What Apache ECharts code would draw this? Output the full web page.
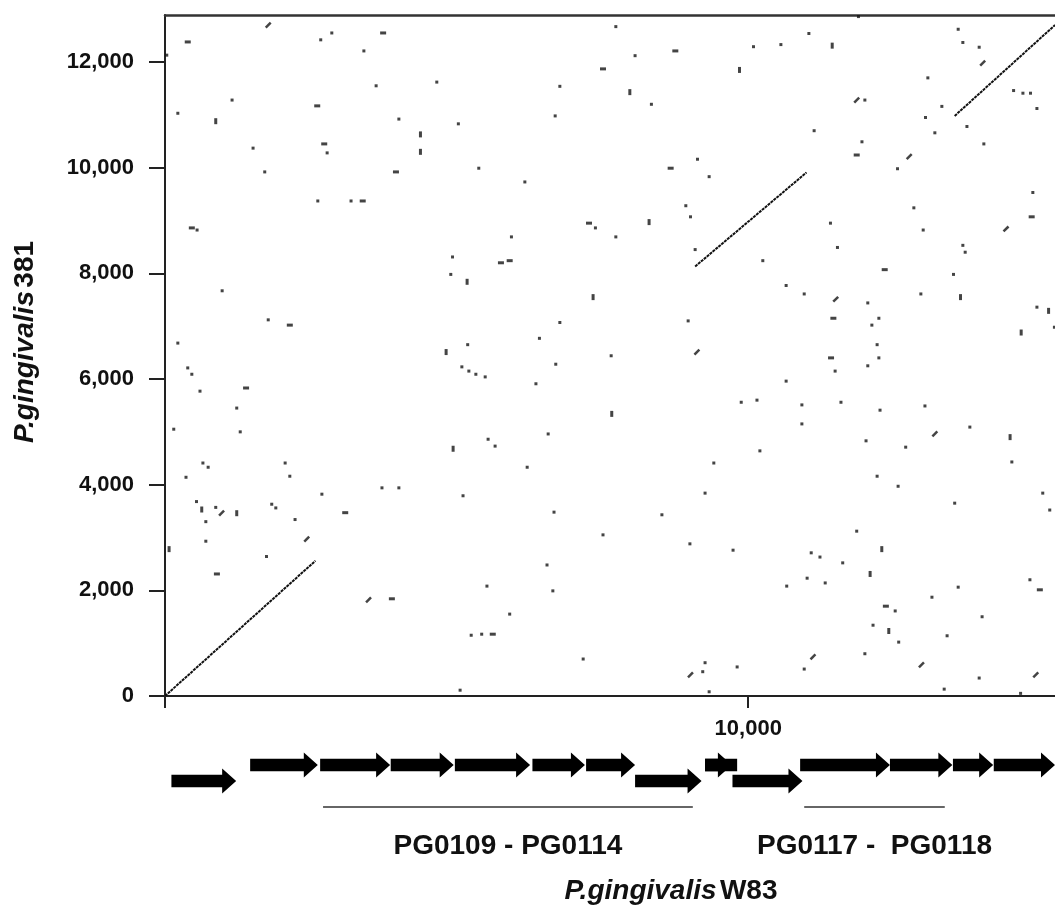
<!DOCTYPE html>
<html>
<head>
<meta charset="utf-8">
<script src="https://cdn.jsdelivr.net/npm/echarts@6/dist/echarts.min.js"></script>
<style>
html,body{margin:0;padding:0;background:#fff;}
#chart{width:1055px;height:910px;}
</style>
</head>
<body>
<div id="chart"></div>
<script>
// ---------------- DATA ----------------
const X_MAX = 15260;           // W83 position (bp) at right edge of view
const Y_MAX = 12890;           // 381 position (bp) at top edge of view
const xTickValues = [0, 10000];
const xLabelValues = [10000];
const yTickValues = [0, 2000, 4000, 6000, 8000, 10000, 12000];
const xTitle = ['P.gingivalis', 'W83'];
const yTitle = ['P.gingivalis', '381'];

// long collinear alignments [x0, y0, x1, y1]
const alignments = [
  [0, 0, 2580, 2560],
  [9090, 8130, 11000, 9910],
  [13540, 10980, 15260, 12700]
];

// isolated short matches
const dots = [
  [30,12130],[2670,12420],[2860,12550],[3410,12210],[3620,11550],[220,11030],[1150,11280],
  [4010,10920],[1510,10370],[2780,10280],[1710,9920],[2620,9370],[3190,9370],[550,8820],
  [7730,12670],[8060,12120],[4660,11620],[6770,11540],[8340,11200],[6690,10980],[5030,10830],
  [9130,10160],[9330,9830],[5380,9990],[6170,9730],[8930,9280],[9010,9070],[7380,8860],
  [7730,8690],[5940,8690],[9090,8450],[4930,8310],[4900,7980],[8970,7100],[6770,7070],
  [6420,6770],[5190,6650],[7650,6440],[11890,12860],[13600,12620],[11040,12540],[13680,12370],
  [10090,12290],[10560,12330],[13960,12280],[13080,11700],[14550,11460],[14710,11410],
  [14840,11410],[14950,11120],[12000,11280],[13320,11160],[13040,10950],[13750,10780],
  [13200,10660],[11130,10700],[11950,10490],[14040,10450],[12560,9980],[14880,9530],
  [12840,9240],[11410,8950],[13000,8820],[11530,8490],[13680,8530],[13720,8400],[10250,8240],
  [13520,7980],[10650,7770],[10960,7610],[12960,7610],[12050,7440],[14950,7360],[12240,7150],
  [12120,7020],[15250,6980],[12210,6650],[12240,6400],[540,3680],[870,3570],[700,3300],
  [1830,3630],[1900,3560],[2230,3340],[700,2930],[1740,2640],
  [980,7670],[390,6210],[460,6090],[220,6680],[150,5050],[1230,5450],[1290,5000],[1770,7120],
  [650,4410],[740,4330],[2060,4410],[2140,4160],[3720,3940],[4010,3940],[360,4140],[2690,3820],
  [600,5770],
  [6700,6280],[5090,6230],[5210,6150],[5330,6090],[5490,6040],[6570,4960],[5540,4860],
  [5660,4730],[5110,3790],[6210,4330],[6670,3480],[7510,3050],[6550,2480],[6650,1990],
  [5520,2080],[5910,1550],[5250,1150],[5430,1170],[7170,700],[5060,110],[9000,2880],[8520,3430],
  [10150,5600],[10200,4640],[10650,5960],[10920,5510],[10920,5150],[11490,6150],[11590,5560],
  [12050,6250],[12260,5410],[12210,4160],[12570,3970],[12700,4710],[13030,5490],[14520,4430],
  [13600,2060],[13150,1870],[14010,1500],[12580,1020],[12520,1610],[12140,1340],[13410,1140],
  [11860,3120],[11620,2520],[11230,2630],[11080,2710],[11320,2140],[11010,2230],[10660,2080],
  [9740,2760],[9260,3840],[14830,2200],[15170,3520],[13800,5090],[13540,3650],[15050,3840],
  [9410,4410],[9880,5560],[12020,4830],[6360,5910],
  [9220,460],[9260,630],[9330,80],[9810,550],[10960,510],[12000,800],[13360,130],[13960,340],
  [14670,50]
];
const hDashes = [
  [390,12380],[3740,12550],[2610,11170],[2730,10450],[3960,9920],[3390,9370],[460,8860],
  [8750,12210],[7510,11870],[8670,9990],[7270,8950],[5760,8200],[5910,8240],[11860,10240],
  [14860,9070],[12340,8070],[11460,7150],[11420,6400],[3090,3470],[890,2310],[3890,1840],
  [1390,5830],[2140,7020],[5620,1170],[15000,2010],[12360,1700]
];
const vDashes = [
  [870,10880],[7970,11430],[4380,10630],[4380,10300],[8300,8970],[5180,7840],[7340,7550],
  [4820,6510],[11440,12310],[9850,11850],[13640,7550],[15150,7290],[14680,6880],[630,3530],
  [1230,3460],[70,2780],[7660,5340],[4940,4680],[14490,4900],[12410,1230],[12090,2310],
  [12290,2780]
];
const pairs = [
  [1770,12700],[9120,6510],[14020,11980],[11860,11280],[12760,10210],[14420,8840],
  [11500,7510],[970,3460],[2430,2970],[3490,1820],[13200,4960],[9010,400],[11110,740],
  [12970,590],[14930,400]
];

// W83 genes [start, end, lane(0 upper / 1 lower)]
const genes = [
  [110,1220,1],[1460,2620,0],[2660,3860,0],[3870,4950,0],[4970,6260,0],[6300,7200,0],
  [7220,8060,0],[8060,9200,1],[9260,9720,0],[9730,10930,1],[10890,12430,0],[12430,13500,0],
  [13510,14200,0],[14210,15260,0]
];
const geneFragments = [[9260, 9810, 0]];
const clusters = [[2710, 9050], [10960, 13370]];
const clusterLabels = ['PG0109 - PG0114', 'PG0117 -  PG0118'];

// ---------------- STYLE ----------------
const FONT = "'Liberation Sans', Arial, Helvetica, sans-serif";
const INK = '#111';
const LANE_Y = [25, 41];    // lane centre offsets inside gene grid
const BRACKET_Y = 67;
const LABEL_Y = 106;

const chart = echarts.init(document.getElementById('chart'), null, {renderer: 'canvas'});

function renderAlign(params, api) {
  const a = api.coord([api.value(0), api.value(1)]);
  const b = api.coord([api.value(2), api.value(3)]);
  return {type: 'line', shape: {x1: a[0], y1: a[1], x2: b[0], y2: b[1]},
          style: {stroke: '#111', lineWidth: 2, lineDash: [3, 0.8]}};
}
function renderGene(params, api) {
  const s = api.coord([api.value(0), 0]);
  const e = api.coord([api.value(1), 0]);
  const cy = params.coordSys.y + LANE_Y[api.value(2)];
  const bh = 6.3, hh = 12.5;
  const hl = Math.min(14, e[0] - s[0]);
  const x0 = s[0], x1 = e[0], xh = x1 - hl;
  return {type: 'polygon', shape: {points: [[x0, cy - bh], [xh, cy - bh], [xh, cy - hh], [x1, cy],
          [xh, cy + hh], [xh, cy + bh], [x0, cy + bh]]}, style: {fill: '#000'}};
}
function renderFrag(params, api) {
  const s = api.coord([api.value(0), 0]);
  const e = api.coord([api.value(1), 0]);
  const cy = params.coordSys.y + LANE_Y[api.value(2)];
  return {type: 'rect', shape: {x: s[0], y: cy - 6.3, width: e[0] - s[0], height: 12.6}, style: {fill: '#000'}};
}
function renderCluster(params, api) {
  const s = api.coord([api.value(0), 0]);
  const e = api.coord([api.value(1), 0]);
  const y = params.coordSys.y + BRACKET_Y;
  return {type: 'group', children: [
    {type: 'line', shape: {x1: s[0], y1: y, x2: e[0], y2: y}, style: {stroke: '#333', lineWidth: 1.6}},
    {type: 'text', x: (s[0] + e[0]) / 2, y: params.coordSys.y + LABEL_Y,
     style: {text: clusterLabels[params.dataIndex], fill: INK, font: 'bold 28px ' + FONT,
             align: 'center', verticalAlign: 'middle'}}
  ]};
}

const titleRich = {
  i: {fontFamily: FONT, fontSize: 28, fontWeight: 'bold', fontStyle: 'italic', fill: INK, color: INK},
  n: {fontFamily: FONT, fontSize: 28, fontWeight: 'bold', fill: INK, color: INK}
};

const option = {
  animation: false,
  backgroundColor: '#fff',
  grid: [
    {left: 165, top: 15, width: 890, height: 681},
    {left: 165, top: 740, width: 890, height: 140}
  ],
  graphic: [
    {type: 'text', left: null, x: 671, y: 891,
     style: {text: '{i|' + xTitle[0] + '} {n|' + xTitle[1] + '}', rich: titleRich,
             align: 'center', verticalAlign: 'middle'}},
    {type: 'text', x: 25, y: 342, rotation: Math.PI / 2,
     style: {text: '{i|' + yTitle[0] + '} {n|' + yTitle[1] + '}', rich: titleRich,
             align: 'center', verticalAlign: 'middle'}}
  ],
  xAxis: [
    {type: 'value', gridIndex: 0, min: 0, max: X_MAX, position: 'bottom',
     axisLine: {show: true, onZero: false, lineStyle: {color: '#222', width: 2}},
     axisTick: {show: true, customValues: xTickValues, length: 12, lineStyle: {color: '#222', width: 2}},
     axisLabel: {show: true, customValues: xLabelValues, margin: 22,
       formatter: v => v.toLocaleString('en-US'),
       fontFamily: FONT, fontSize: 22, fontWeight: 'bold', color: INK},
     splitLine: {show: false}},
    {type: 'value', gridIndex: 0, min: 0, max: X_MAX, position: 'top',
     axisLine: {show: true, onZero: false, lineStyle: {color: '#333', width: 2.5}},
     axisTick: {show: false}, axisLabel: {show: false}, splitLine: {show: false}},
    {type: 'value', gridIndex: 1, min: 0, max: X_MAX, show: false}
  ],
  yAxis: [
    {type: 'value', gridIndex: 0, min: 0, max: Y_MAX,
     axisLine: {show: true, onZero: false, lineStyle: {color: '#222', width: 2}},
     axisTick: {show: true, customValues: yTickValues, length: 16, lineStyle: {color: '#222', width: 2}},
     axisLabel: {show: true, customValues: yTickValues, margin: 31,
       formatter: v => v.toLocaleString('en-US'),
       fontFamily: FONT, fontSize: 22, fontWeight: 'bold', color: INK},
     splitLine: {show: false}},
    {type: 'value', gridIndex: 1, min: 0, max: 1, show: false}
  ],
  series: [
    {type: 'custom', xAxisIndex: 0, yAxisIndex: 0, renderItem: renderAlign, data: alignments, clip: true},
    {type: 'scatter', xAxisIndex: 0, yAxisIndex: 0, data: dots, symbol: 'rect', symbolSize: [3, 3],
     itemStyle: {color: '#151515'}},
    {type: 'scatter', xAxisIndex: 0, yAxisIndex: 0, data: hDashes, symbol: 'rect', symbolSize: [6, 3],
     itemStyle: {color: '#151515'}},
    {type: 'scatter', xAxisIndex: 0, yAxisIndex: 0, data: vDashes, symbol: 'rect', symbolSize: [3, 6],
     itemStyle: {color: '#151515'}},
    {type: 'scatter', xAxisIndex: 0, yAxisIndex: 0, data: pairs, symbol: 'rect', symbolSize: [7, 2.5],
     symbolRotate: 45, itemStyle: {color: '#151515'}},
    {type: 'custom', xAxisIndex: 2, yAxisIndex: 1, renderItem: renderGene, data: genes, clip: false},
    {type: 'custom', xAxisIndex: 2, yAxisIndex: 1, renderItem: renderFrag, data: geneFragments, clip: false},
    {type: 'custom', xAxisIndex: 2, yAxisIndex: 1, renderItem: renderCluster, data: clusters, clip: false}
  ]
};
chart.setOption(option);
</script>
</body>
</html>
